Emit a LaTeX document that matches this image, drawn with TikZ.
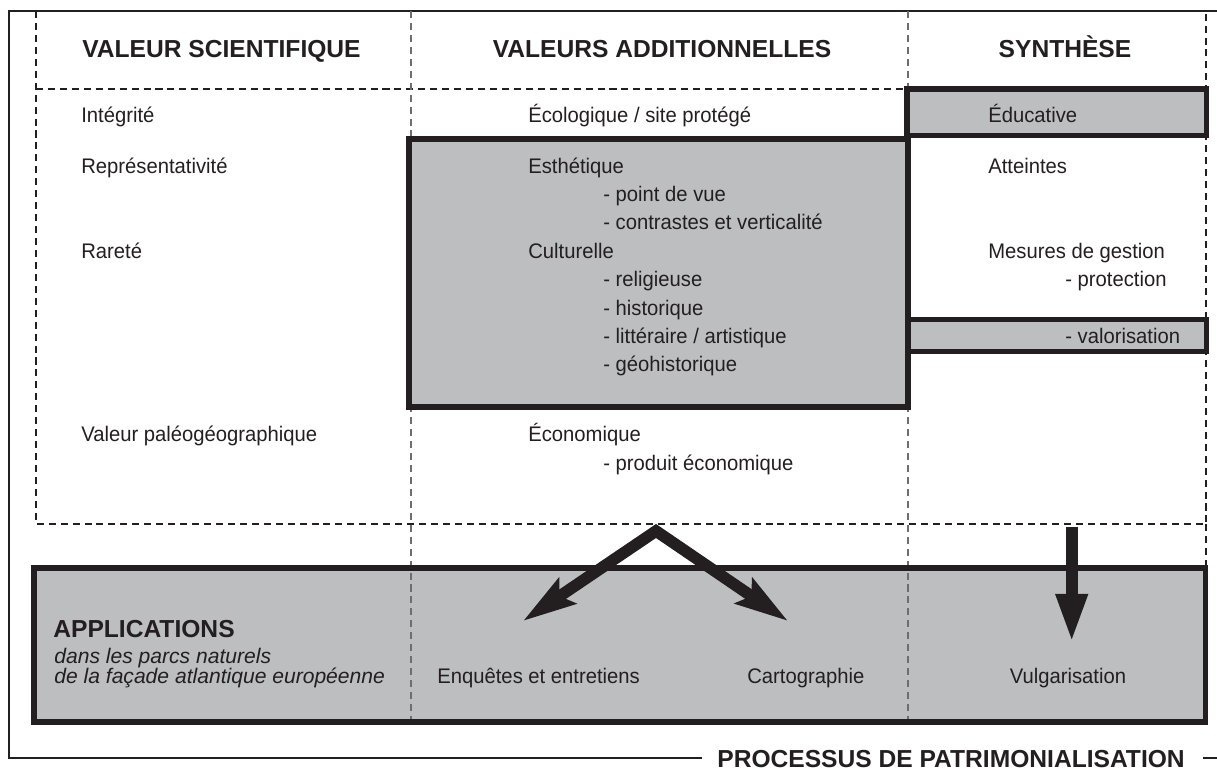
\documentclass[tikz,border=0pt]{standalone}
\usepackage{fontspec}
\setmainfont{Liberation Sans}
\newfontfamily\narrowsans{Liberation Sans}[FakeStretch=0.96]
\usetikzlibrary{arrows.meta}
\definecolor{inkdark}{RGB}{35,31,32}
\definecolor{boxgray}{RGB}{188,190,192}
\definecolor{gridgray}{RGB}{109,110,113}

\begin{document}
\begin{tikzpicture}[x=0.02cm, y=-0.02cm,
  frameline/.style={draw=inkdark, line width=1.1pt},
  gridline/.style={draw=inkdark, line width=0.8pt, dash pattern=on 4pt off 2.8pt},
  colline/.style={gridline, draw=gridgray},
  valuebox/.style={draw=inkdark, fill=boxgray, line width=3.1pt},
  head/.style={inner sep=0pt, anchor=base, text=inkdark, font=\fontsize{14}{16}\selectfont\bfseries},
  item/.style={inner sep=0pt, anchor=base west, text=inkdark, font=\fontsize{12}{14}\narrowsans},
  note/.style={inner sep=0pt, anchor=base west, text=inkdark, font=\fontsize{12}{14}\selectfont\itshape}]
\useasboundingbox (0,0) rectangle (1217,771);
\draw[frameline] (1217,11) -- (9,11) -- (9,758) -- (702,758);
\draw[frameline] (1203,758) -- (1217,758);
\fill[boxgray] (34,568) rectangle (1205.5,722);
\draw[gridline] (36,11) -- (36,524) -- (1206,524) -- (1206,11);
\draw[gridline] (1206,524) -- (1206,568);
\draw[gridline] (36,89) -- (908,89);
\draw[colline] (411,11) -- (411,720);
\draw[colline] (908,11) -- (908,720);
\draw[valuebox, fill=none] (34,568) rectangle (1205.5,722);
\draw[valuebox] (409,139) rectangle (908,407);
\draw[valuebox] (907,89) rectangle (1206.5,135.5);
\draw[valuebox] (908,319.5) rectangle (1206.5,351.5);

\node[head] (hScience) at (221.5,57) {VALEUR SCIENTIFIQUE};
\node[head] (hAdditional) at (662,57) {VALEURS ADDITIONNELLES};
\node[head] (hSynthesis) at (1065,57) {SYNTHÈSE};

\node[item] (integrity) at (81,122) {Intégrité};
\node[item] (represent) at (81,173) {Représentativité};
\node[item] (rarity) at (81,258) {Rareté};
\node[item] (paleo) at (81,441) {Valeur paléogéographique};

\node[item] (ecology) at (528,122) {Écologique / site protégé};
\node[item] (esthetic) at (528,173) {Esthétique};
\node[item] (viewpoint) at (603,201.4) {- point de vue};
\node[item] (contrast) at (603,229.8) {- contrastes et verticalité};
\node[item] (cultural) at (528,258.2) {Culturelle};
\node[item] (religious) at (603,286.6) {- religieuse};
\node[item] (historic) at (603,315) {- historique};
\node[item] (literary) at (603,343.4) {- littéraire / artistique};
\node[item] (geohist) at (603,371.8) {- géohistorique};
\node[item] (economic) at (528,441) {Économique};
\node[item] (product) at (603,470) {- produit économique};

\node[item] (education) at (988,122) {Éducative};
\node[item] (damage) at (988,173) {Atteintes};
\node[item] (management) at (988,258.2) {Mesures de gestion};
\node[item] (protection) at (1065,286.6) {- protection};
\node[item] (promotion) at (1065,343.4) {- valorisation};

\node[head, anchor=base west] (applications) at (53,637) {APPLICATIONS};
\node[note] (parks) at (54,663) {dans les parcs naturels};
\node[note] (coast) at (54,683) {de la façade atlantique européenne};
\node[item] (surveys) at (437,683) {Enquêtes et entretiens};
\node[item] (mapping) at (747,683) {Cartographie};
\node[item, anchor=base] (popular) at (1068,683) {Vulgarisation};

\node[head, anchor=base west] (process) at (717,767) {PROCESSUS DE PATRIMONIALISATION};

\coordinate (apex) at (656,531);
\coordinate (surveyTip) at (523,621);
\coordinate (mappingTip) at (788,621);
\coordinate (popularTop) at (1071.7,527);
\coordinate (popularTip) at (1071.7,643);
\draw[inkdark, line width=6.6pt, line join=miter,
  {Stealth[length=30pt,width=17pt,inset=5pt]}-{Stealth[length=30pt,width=17pt,inset=5pt]}]
  (surveyTip) -- (apex) -- (mappingTip);
\draw[inkdark, line width=6.8pt, -{Triangle[length=28pt,width=16.6pt]}] (popularTop) -- (popularTip);
\end{tikzpicture}
\end{document}
